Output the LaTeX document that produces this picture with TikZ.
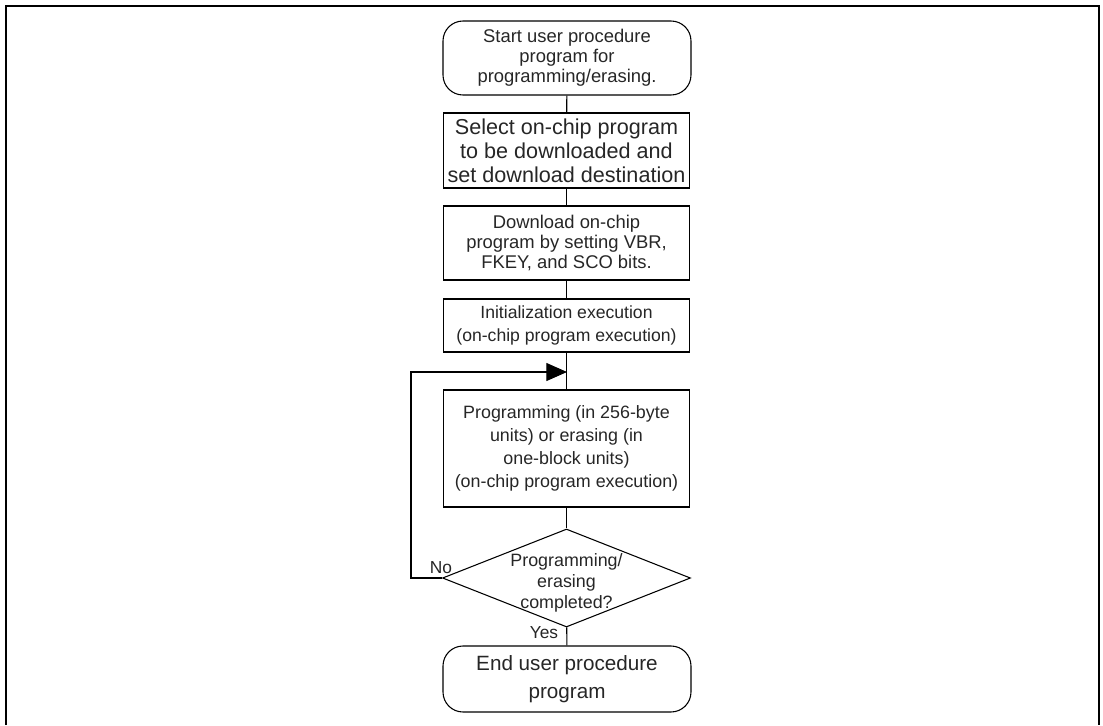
\documentclass[tikz,border=0pt]{standalone}
\usepackage{fontspec}
\setmainfont{Liberation Sans}
\usetikzlibrary{shapes.geometric,arrows.meta}
\begin{document}
\begin{tikzpicture}[x=0.75pt,y=-0.75pt,
  base/.style={draw,line width=0.8pt,inner sep=0pt,align=center,text=black!85},
  term/.style={base,rounded corners=15pt,minimum width=186pt},
  proc/.style={base,minimum width=184pt},
  conn/.style={line width=0.8pt},
  lbl/.style={inner sep=0pt,font=\fontsize{13pt}{15pt}\selectfont,text=black!85}]
\useasboundingbox (0,0) rectangle (1103,725);
\draw[line width=1.6pt] (6,725) -- (6,6) -- (1099,6) -- (1099,725);

\node[term,minimum height=55.5pt,font=\fontsize{13.8pt}{15pt}\selectfont] (start) at (567,58)
  {Start user procedure\\program for\\programming/erasing.};
\node[proc,minimum height=56.25pt,font=\fontsize{16.2pt}{18pt}\selectfont] (sel) at (566.5,150.5)
  {Select on-chip program\\to be downloaded and\\set download destination};
\node[proc,minimum height=55.5pt,font=\fontsize{13.8pt}{15pt}\selectfont] (dl) at (566.5,243)
  {Download on-chip\\program by setting VBR,\\FKEY, and SCO bits.};
\node[proc,minimum height=39.75pt,font=\fontsize{13.2pt}{17.2pt}\selectfont] (init) at (566.5,325.5)
  {Initialization execution\\(on-chip program execution)};
\node[proc,minimum height=87.75pt,font=\fontsize{13.4pt}{17.2pt}\selectfont] (prog) at (566.5,448.5)
  {Programming (in 256-byte\\units) or erasing (in\\one-block units)\\(on-chip program execution)};
\node[draw,line width=0.8pt,diamond,inner sep=0pt,minimum width=186pt,minimum height=73.5pt] (dec) at (566.5,578) {};
\node[inner sep=0pt,align=center,text=black!85,font=\fontsize{13.4pt}{16pt}\selectfont] (dectext) at (566.5,583)
  {Programming/\\erasing\\completed?};
\node[term,minimum height=49.5pt,font=\fontsize{15.5pt}{21pt}\selectfont] (end) at (567,679)
  {End user procedure\\program};

\coordinate (loopin) at (567,372);
\draw[conn] (start) -- (sel);
\draw[conn] (sel) -- (dl);
\draw[conn] (dl) -- (init);
\draw[conn] (init) -- (prog);
\draw[conn] (prog) -- (dec);
\draw[conn] (dec) -- (end);
\draw[conn,-{Triangle[length=15.5pt,width=13.5pt]}] (dec.west) -- ++(-31,0) |- (loopin);

\node[lbl] (no) at (441,568) {No};
\node[lbl] (yes) at (544,633) {Yes};
\end{tikzpicture}
\end{document}
